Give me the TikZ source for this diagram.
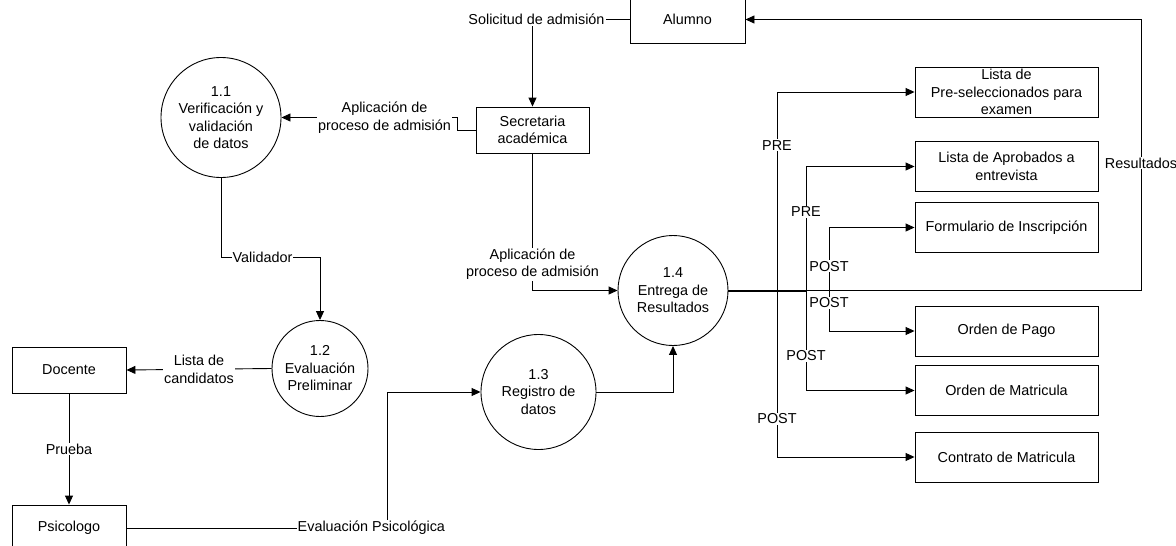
\documentclass[tikz,border=0pt]{standalone}
\usepackage{fontspec}
\setmainfont{Liberation Sans}
\usetikzlibrary{arrows.meta}
\begin{document}
\begin{tikzpicture}[x=1pt,y=-1pt,
  font=\fontsize{14.4}{17.5}\selectfont,
  line width=0.9pt,
  proc/.style={draw,circle,align=center,inner sep=0pt},
  ent/.style={draw,rectangle,align=center,inner sep=0pt},
  flow/.style={-{Triangle[length=9pt,width=8pt]}},
  lbl/.style={fill=white,inner sep=1pt,align=center},
  trunk/.style={line width=2pt}]
\useasboundingbox (0,0) rectangle (1176,546);

% processes
\node[proc,minimum size=120pt] (p11) at (221,117.5) {1.1\\Verificación y\\validación\\de datos};
\node[proc,minimum size=96pt]  (p12) at (320,368.5) {1.2\\Evaluación\\Preliminar};
\node[proc,minimum size=115pt] (p13) at (538.5,392) {1.3\\Registro de\\datos};
\node[proc,minimum size=110pt] (p14) at (673,290.5) {1.4\\Entrega de\\Resultados};

% external entities
\node[ent,minimum width=115pt,minimum height=48pt] (alumno) at (687.5,19.5) {Alumno};
\node[ent,minimum width=113pt,minimum height=46pt] (secre) at (532.5,130) {Secretaria\\académica};
\node[ent,minimum width=114pt,minimum height=46pt] (docente) at (69,370) {Docente};
\node[ent,minimum width=114pt,minimum height=46pt] (psico) at (69,528) {Psicologo};

% result documents
\begin{scope}[every node/.style={ent,minimum width=183pt,minimum height=50pt}]
\node (l1) at (1006.5,92)    {Lista de\\Pre-seleccionados para\\examen};
\node (l2) at (1006.5,166.5) {Lista de Aprobados a\\entrevista};
\node (l3) at (1006.5,227.5) {Formulario de Inscripción};
\node (l4) at (1006.5,331)   {Orden de Pago};
\node (l5) at (1006.5,390.5) {Orden de Matricula};
\node (l6) at (1006.5,457)   {Contrato de Matricula};
\end{scope}

% data flows
\draw[flow] (alumno.west) -| node[lbl,pos=0.5,xshift=4pt]{Solicitud de admisión} (secre.north);
\draw[flow] (secre.west) -- ++(-18,0) -- ++(0,-12.5) -- node[lbl,pos=0.415]{Aplicación de\\proceso de admisión} (p11.east);
\draw[flow] (secre.south) |- node[lbl,pos=0.404]{Aplicación de\\proceso de admisión} (p14.west);
\draw[flow] (p11.south) -- (221,257) -- node[lbl,pos=0.42]{Validador} (320,257) -- (p12.north);
\draw[flow] (p12.west) -- node[lbl]{Lista de\\candidatos} (docente.east);
\draw[flow] (docente.south) -- node[lbl]{Prueba} (psico.north);
\draw[flow] (psico.east) -- node[lbl,pos=0.94]{Evaluación Psicológica} (387,528) |- (p13.west);
\draw[flow] (p13.east) -| (p14.south);
\draw[flow] (p14.east) -- (1141,290.5) |- node[lbl,pos=0.235]{Resultados} (alumno.east);

% branches to the result documents
\draw[trunk] (p14.east) -- (806,290.5);
\draw[flow] (p14.east) -- (777,290.5) |- node[lbl,pos=0.366]{PRE} (l1.west);
\draw[flow] (p14.east) -- (806,290.5) |- node[lbl,pos=0.317]{PRE} (l2.west);
\draw[flow] (p14.east) -- (829,290.5) |- node[lbl,pos=0.194]{POST} (l3.west);
\draw[flow] (p14.east) -- (829,290.5) |- node[lbl,pos=0.154]{POST} (l4.west);
\draw[flow] (p14.east) -- (806,290.5) |- node[lbl,pos=0.3275]{POST} (l5.west);
\draw[flow] (p14.east) -- (777,290.5) |- node[lbl,pos=0.386]{POST} (l6.west);
\end{tikzpicture}
\end{document}
